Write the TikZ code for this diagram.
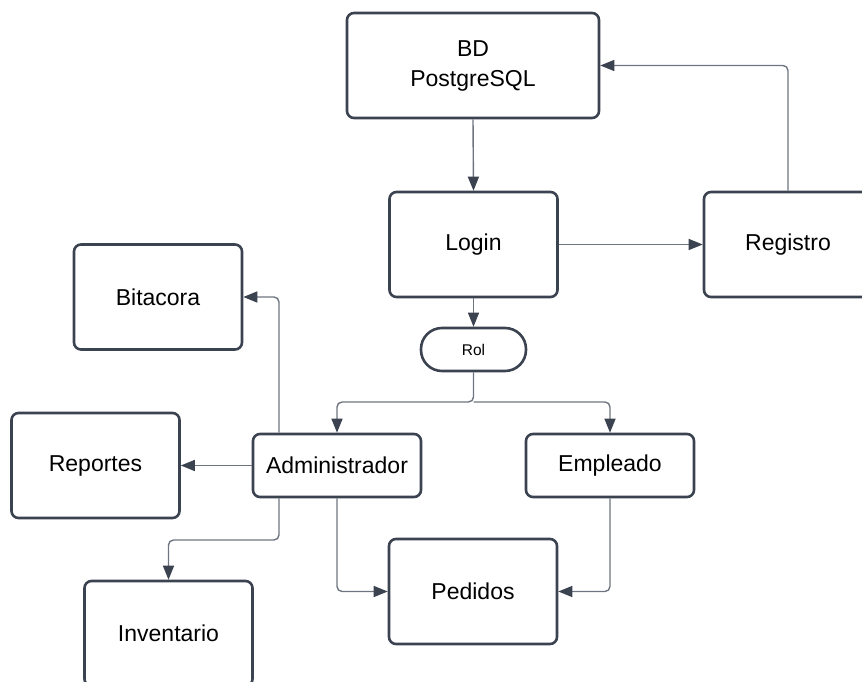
\documentclass[tikz,border=0pt]{standalone}
\usepackage{xcolor}
\usepackage{fontspec}
\setmainfont{Liberation Sans}
\usepackage{tikz}
\usetikzlibrary{arrows.meta}
\definecolor{borde}{HTML}{3B4250}
\definecolor{linea}{HTML}{6E7580}

\begin{document}
\begin{tikzpicture}[
				x=1pt, y=-1pt,
				bignode/.style={rectangle, draw=borde, fill=white, line width=2.6pt, rounded corners=7pt, minimum width=168pt, minimum height=105pt, inner sep=0pt, align=center, font=\fontsize{23}{30}\selectfont},
				smallnode/.style={bignode, minimum height=63pt},
				pillnode/.style={rectangle, draw=borde, fill=white, line width=2.6pt, rounded corners=21pt, minimum width=105pt, minimum height=43pt, inner sep=0pt, font=\fontsize{15.5}{18}\selectfont},
				flecha/.style={line width=1.4pt, draw=linea, rounded corners=5pt, -{Triangle[length=14pt,width=11pt,color=borde]}},
				]
				\useasboundingbox (0,0) rectangle (862,682);
				\clip (0,0) rectangle (862,682);
				%Nodes
				\node[bignode, minimum width=252pt](bd) at (473,65.5){BD\\PostgreSQL};
				\node[bignode](login) at (473.5,244.5){Login};
				\node[bignode](registro) at (788,244.5){Registro};
				\node[bignode](bitacora) at (158,297){Bitacora};
				\node[pillnode](rol) at (473.5,349.5){Rol};
				\node[bignode](reportes) at (95.5,465.5){Reportes};
				\node[smallnode](admin) at (337,465.5){Administrador};
				\node[smallnode](empleado) at (610,465.5){Empleado};
				\node[bignode](pedidos) at (473,591.5){Pedidos};
				\node[bignode](inventario) at (168.5,633.5){Inventario};
				\coordinate (split) at (473.5,402);
				\coordinate (inv) at (279,540);
				
				%Lines
				\draw[flecha] (bd.south) -- (login.north);
				\draw[flecha] (login.east) -- (registro.west);
				\draw[flecha] (registro.north) |- (bd.east);
				\draw[flecha] (login.south) -- (rol.north);
				\draw[flecha] (rol.south) -- (split) -| (admin.north);
				\draw[flecha] (split) -| (empleado.north);
				\draw[flecha] (admin.west) -- (reportes.east);
				\draw[flecha] ([xshift=-58pt]admin.north) |- (bitacora.east);
				\draw[flecha] ([xshift=-58pt]admin.south) -- (inv) -| (inventario.north);
				\draw[flecha] (admin.south) |- (pedidos.west);
				\draw[flecha] (empleado.south) |- (pedidos.east);
				
			\end{tikzpicture}
\end{document}
